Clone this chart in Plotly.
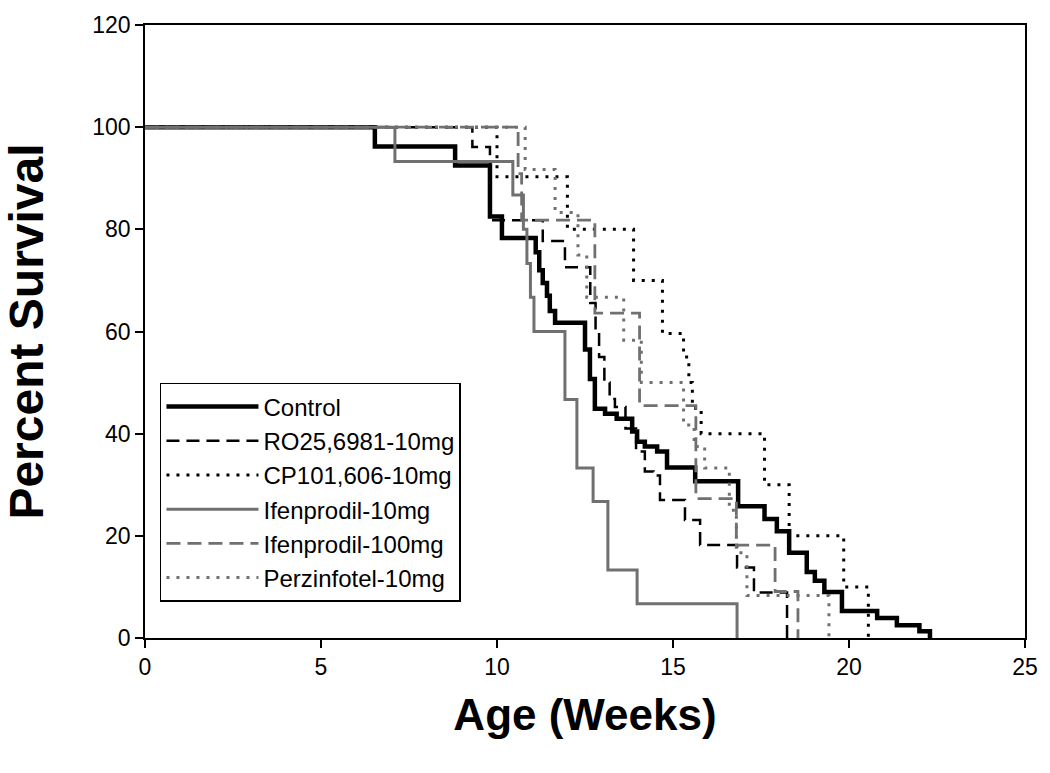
import plotly.graph_objects as go

# survival curves (weeks, percent)
control_wk = [0, 6.53, 8.81, 9.8, 10.14, 11.1, 11.2, 11.3, 11.42, 11.5, 11.65,
              12.5, 12.64, 12.78, 13.07, 13.4, 13.84, 13.98, 14.2, 14.55, 14.83,
              15.63, 16.85, 17.6, 17.95, 18.3, 18.8, 19.03, 19.3, 19.8, 20.8,
              21.36, 22.0, 22.3]
control_pct = [100, 96.2, 92.5, 82.5, 78.3, 75.5, 72, 69.5, 67, 64, 61.7,
               56.5, 50.7, 44.9, 43.9, 42.9, 40.4, 38.4, 37.5, 36.5, 33.4,
               30.7, 25.8, 23.3, 20.9, 16.7, 12.9, 11.2, 9.0, 5.3, 3.9,
               2.5, 1.3, 0]

ro_wk = [0, 9.3, 9.8, 11.3, 11.93, 12.65, 12.8, 12.9, 13.05, 13.2, 13.35,
         13.65, 13.95, 14.2, 14.45, 14.63, 15.34, 15.77, 16.82, 17.3, 18.24]
ro_pct = [100, 96.1, 81.8, 77.7, 72.6, 65.6, 60, 55, 50, 46.8, 45.2,
          41, 36.5, 32.6, 31.8, 27, 23.1, 18.2, 13.8, 8.9, 0]

cp_wk = [0, 10.0, 12.0, 13.88, 14.7, 15.3, 15.45, 15.55, 15.8, 17.6, 18.3,
         19.85, 20.55]
cp_pct = [100, 90.3, 80, 70, 59.6, 55, 50, 45, 40, 30, 20, 10, 0]

ifen10_wk = [0, 7.1, 10.45, 10.75, 10.85, 10.95, 11.05, 11.93, 12.27, 12.73,
             13.15, 13.98, 16.82]
ifen10_pct = [100, 93.3, 86.7, 80, 73.3, 66.7, 60, 46.7, 33.3, 26.7,
              13.3, 6.7, 0]

ifen100_wk = [0, 10.6, 10.7, 12.78, 14.05, 15.65, 16.8, 17.9, 18.55]
ifen100_pct = [100, 90.9, 81.8, 63.6, 45.5, 27.3, 18.2, 9.1, 0]

perz_wk = [0, 10.8, 11.65, 12.3, 12.55, 13.6, 14.1, 15.3, 15.6, 15.9,
           16.6, 16.8, 17.1, 19.43]
perz_pct = [100, 91.7, 83.3, 75, 66.7, 58.3, 50, 41.7, 37.5, 33.3,
            25, 16.7, 8.3, 0]

black = "black"
gray = "#707070"

fig = go.Figure()
fig.add_trace(go.Scatter(x=control_wk, y=control_pct, name="Control", mode="lines",
                         line=dict(color=black, width=4.5, shape="hv")))
fig.add_trace(go.Scatter(x=ro_wk, y=ro_pct, name="RO25,6981-10mg", mode="lines",
                         line=dict(color=black, width=2.5, shape="hv", dash="13px,7px")))
fig.add_trace(go.Scatter(x=cp_wk, y=cp_pct, name="CP101,606-10mg", mode="lines",
                         line=dict(color=black, width=3, shape="hv", dash="3px,7px")))
fig.add_trace(go.Scatter(x=ifen10_wk, y=ifen10_pct, name="Ifenprodil-10mg", mode="lines",
                         line=dict(color=gray, width=3, shape="hv")))
fig.add_trace(go.Scatter(x=ifen100_wk, y=ifen100_pct, name="Ifenprodil-100mg", mode="lines",
                         line=dict(color=gray, width=2.8, shape="hv", dash="14px,7px")))
fig.add_trace(go.Scatter(x=perz_wk, y=perz_pct, name="Perzinfotel-10mg", mode="lines",
                         line=dict(color=gray, width=3, shape="hv", dash="3px,7px")))

font = "Arial, Liberation Sans, sans-serif"
axis = dict(showline=True, mirror=True, linecolor="black", linewidth=1.5,
            ticks="outside", ticklen=8, tickwidth=1.5, tickcolor="black",
            showgrid=False, zeroline=False,
            tickfont=dict(family=font, size=23, color="black"))

fig.update_layout(
    width=1050, height=773,
    margin=dict(l=145, r=24, t=19, b=135),
    plot_bgcolor="white", paper_bgcolor="white",
    xaxis=dict(range=[0, 25], dtick=5,
               title=dict(text="<b>Age (Weeks)</b>", standoff=20,
                          font=dict(family=font, size=44, color="black")),
               **axis),
    yaxis=dict(range=[0, 120], dtick=20,
               title=dict(text="<b>Percent Survival</b>", standoff=34,
                          font=dict(family=font, size=48, color="black")),
               **axis),
    legend=dict(x=0.017, y=0.416, xanchor="left", yanchor="top",
                bgcolor="white", bordercolor="black", borderwidth=1.5,
                font=dict(family=font, size=24, color="black"),
                itemwidth=92, tracegroupgap=0),
    showlegend=True,
)

# page margin off so the 1050x773 figure fills the window without scrollbars
fig.write_html("out.html", config={"displayModeBar": False},
               post_script="document.body.style.margin='0';document.body.style.overflow='hidden';")
